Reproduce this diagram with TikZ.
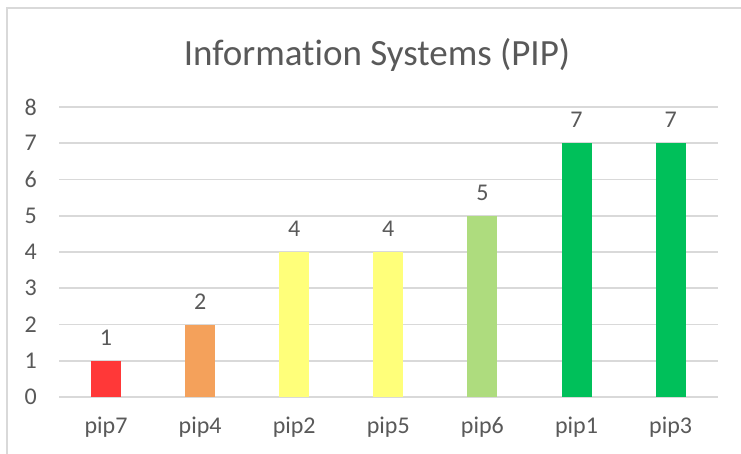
\documentclass[tikz,border=0pt]{standalone}
\usepackage{fontspec}
\setmainfont{Carlito}[Ligatures=NoCommon]
\definecolor{txt}{HTML}{595959}
\definecolor{grid}{HTML}{D9D9D9}
\definecolor{cred}{HTML}{FF3838}
\definecolor{corange}{HTML}{F4A15B}
\definecolor{cyellow}{HTML}{FFFF7A}
\definecolor{clgreen}{HTML}{AEDC7E}
\definecolor{cgreen}{HTML}{00C05A}
\tikzset{
  lbl/.style={text=txt, font=\fontsize{24}{28}\selectfont, inner sep=0pt},
  ttl/.style={text=txt, font=\fontsize{37}{44}\selectfont, inner sep=0pt},
  gridline/.style={draw=grid, line width=1.6pt},
  bar/.style={draw=none}
}
\begin{document}
\begin{tikzpicture}[x=1pt,y=-1pt]
\useasboundingbox (0,0) rectangle (741,454);
\fill[white] (0,0) rectangle (741,454);
% chart border
\draw[grid, line width=1.6pt] (7,460) -- (7,8) -- (750,8);
% title
\node[ttl, anchor=base] (title) at (377,66) {Information Systems (PIP)};
% gridlines and y labels
\foreach \v in {0,...,8} {
  \pgfmathsetmacro{\yy}{397-36.25*\v}
  \draw[gridline] (59,\yy) -- (718,\yy);
  \node[lbl, anchor=east] (y\v) at (37,\yy) {\v};
}
% bars
\foreach \i/\val/\col/\name in {0/1/cred/pip7,1/2/corange/pip4,2/4/cyellow/pip2,3/4/cyellow/pip5,4/5/clgreen/pip6,5/7/cgreen/pip1,6/7/cgreen/pip3} {
  \pgfmathsetmacro{\cx}{106+94.1*\i}
  \pgfmathsetmacro{\top}{397-36.25*\val}
  \fill[\col] (\cx-15,397) rectangle (\cx+15,\top);
  \node[lbl] (v\name) at (\cx,\top-23) {\val};
  \node[lbl, anchor=base] (x\name) at (\cx,433) {\name};
}
\end{tikzpicture}
\end{document}
